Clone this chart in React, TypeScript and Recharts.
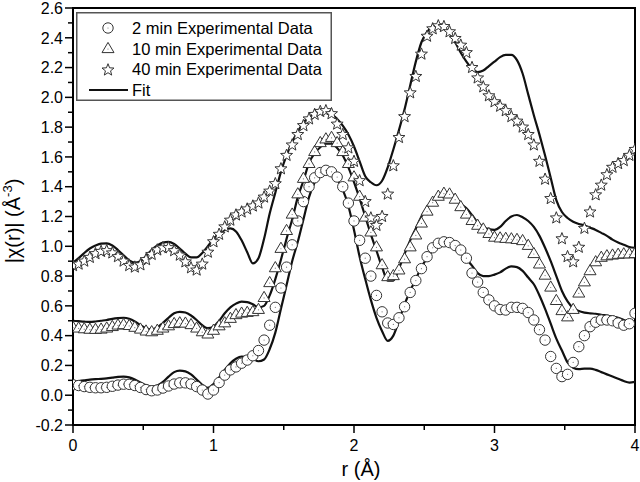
import React from 'react';
import { ComposedChart, Scatter, Line, XAxis, YAxis, ReferenceArea, Legend } from 'recharts';

const FONT = 'Liberation Sans, Arial, Helvetica, sans-serif';

// r grid (Å)
const rValues = [
  0, 0.04, 0.08, 0.12, 0.16, 0.2, 0.24, 0.28, 0.32, 0.36, 0.4, 0.44, 0.48, 0.52, 0.56, 0.6, 0.64, 0.68, 0.72, 0.76, 0.8, 0.84, 0.88, 0.92, 0.96,
  1, 1.04, 1.08, 1.12, 1.16, 1.2, 1.24, 1.28, 1.32, 1.36, 1.4, 1.44, 1.48, 1.52, 1.56, 1.6, 1.64, 1.68, 1.72, 1.76, 1.8, 1.84, 1.88, 1.92, 1.96,
  2, 2.04, 2.08, 2.12, 2.16, 2.2, 2.24, 2.28, 2.32, 2.36, 2.4, 2.44, 2.48, 2.52, 2.56, 2.6, 2.64, 2.68, 2.72, 2.76, 2.8, 2.84, 2.88, 2.92, 2.96,
  3, 3.04, 3.08, 3.12, 3.16, 3.2, 3.24, 3.28, 3.32, 3.36, 3.4, 3.44, 3.48, 3.52, 3.56, 3.6, 3.64, 3.68, 3.72, 3.76, 3.8, 3.84, 3.88, 3.92, 3.96,
  4,
];

// 2 min experimental data
const exp2 = [
  0.07, 0.065, 0.058, 0.053, 0.05, 0.05, 0.053, 0.06, 0.068, 0.074, 0.073, 0.065, 0.052, 0.038, 0.03, 0.035, 0.048, 0.062, 0.075, 0.083, 0.083, 0.075, 0.058, 0.035, 0.008,
  0.035, 0.085, 0.135, 0.17, 0.19, 0.215, 0.236, 0.265, 0.3, 0.37, 0.47, 0.59, 0.72, 0.86, 1.01, 1.17, 1.3, 1.4, 1.46, 1.495, 1.51, 1.5, 1.465, 1.4, 1.29,
  1.17, 1.04, 0.92, 0.8, 0.67, 0.56, 0.485, 0.475, 0.52, 0.594, 0.69, 0.77, 0.85, 0.93, 0.99, 1.02, 1.03, 1.025, 1.005, 0.975, 0.92, 0.82, 0.76, 0.69, 0.64,
  0.6, 0.575, 0.572, 0.59, 0.59, 0.583, 0.555, 0.505, 0.44, 0.37, 0.26, 0.18, 0.125, 0.14, 0.22, 0.326, 0.4, 0.46, 0.49, 0.505, 0.505, 0.5, 0.485, 0.47, 0.48,
  0.55,
];

// 10 min experimental data
const exp10 = [
  0.46, 0.455, 0.45, 0.447, 0.446, 0.448, 0.455, 0.465, 0.475, 0.478, 0.472, 0.46, 0.448, 0.435, 0.43, 0.44, 0.455, 0.47, 0.485, 0.49, 0.488, 0.478, 0.455, 0.43, 0.415,
  0.44, 0.47, 0.49, 0.52, 0.545, 0.555, 0.56, 0.565, 0.58, 0.66, 0.76, 0.86, 0.99, 1.11, 1.22, 1.356, 1.46, 1.56, 1.64, 1.7, 1.725, 1.735, 1.7, 1.64, 1.56,
  1.47, 1.34, 1.2, 1.1, 1.0, 0.88, 0.8, 0.807, 0.845, 0.92, 1.0, 1.08, 1.16, 1.24, 1.3, 1.34, 1.36, 1.355, 1.32, 1.27, 1.22, 1.177, 1.145, 1.12, 1.09,
  1.065, 1.06, 1.057, 1.054, 1.05, 1.042, 1.01, 0.955, 0.885, 0.81, 0.73, 0.64, 0.572, 0.53, 0.58, 0.69, 0.765, 0.84, 0.9, 0.93, 0.94, 0.945, 0.95, 0.953, 0.953,
  0.955,
];

// 40 min experimental data
const exp40 = [
  0.87, 0.88, 0.9, 0.925, 0.95, 0.965, 0.97, 0.955, 0.93, 0.9, 0.87, 0.86, 0.875, 0.91, 0.945, 0.975, 0.99, 0.99, 0.97, 0.94, 0.895, 0.855, 0.84, 0.88, 0.96,
  1.03, 1.08, 1.13, 1.175, 1.21, 1.23, 1.25, 1.27, 1.29, 1.33, 1.37, 1.42, 1.52, 1.61, 1.68, 1.75, 1.81, 1.855, 1.885, 1.905, 1.91, 1.89, 1.82, 1.75, 1.66,
  1.57, 1.44, 1.3, 1.19, 1.14, 1.2, 1.35, 1.54, 1.73, 1.87, 2.03, 2.14, 2.29, 2.41, 2.46, 2.48, 2.475, 2.44, 2.395, 2.35, 2.3, 2.2, 2.13, 2.07, 2.01,
  1.97, 1.94, 1.91, 1.87, 1.84, 1.8, 1.75, 1.68, 1.57, 1.45, 1.32, 1.19, 1.05, 0.93, 0.895, 0.993, 1.12, 1.23, 1.345, 1.41, 1.48, 1.53, 1.555, 1.575, 1.61,
  1.65,
];

// Fits
const fit2 = [
  0.09, 0.095, 0.1, 0.105, 0.108, 0.11, 0.113, 0.118, 0.123, 0.125, 0.12, 0.105, 0.085, 0.067, 0.058, 0.065, 0.09, 0.125, 0.155, 0.165, 0.16, 0.14, 0.105, 0.07, 0.05,
  0.075, 0.12, 0.17, 0.215, 0.245, 0.26, 0.258, 0.245, 0.228, 0.24, 0.31, 0.42, 0.58, 0.74, 0.9, 1.03, 1.18, 1.33, 1.43, 1.485, 1.51, 1.5, 1.45, 1.38, 1.27,
  1.11, 0.93, 0.78, 0.64, 0.52, 0.43, 0.365, 0.4, 0.5, 0.61, 0.7, 0.78, 0.86, 0.92, 0.97, 0.995, 1.01, 1.005, 0.985, 0.96, 0.915, 0.87, 0.82, 0.8, 0.8,
  0.81, 0.825, 0.85, 0.865, 0.86, 0.835, 0.79, 0.745, 0.67, 0.58, 0.48, 0.38, 0.3, 0.22, 0.185, 0.175, 0.178, 0.178, 0.17, 0.155, 0.14, 0.125, 0.11, 0.095, 0.085,
  0.09,
];

const fit10 = [
  0.5, 0.497, 0.494, 0.492, 0.495, 0.5, 0.505, 0.513, 0.518, 0.52, 0.513, 0.495, 0.47, 0.45, 0.442, 0.455, 0.485, 0.52, 0.55, 0.56, 0.555, 0.535, 0.505, 0.47, 0.45,
  0.46, 0.5, 0.55, 0.59, 0.615, 0.628, 0.625, 0.61, 0.59, 0.6, 0.67, 0.78, 0.91, 1.05, 1.18, 1.33, 1.44, 1.56, 1.625, 1.665, 1.69, 1.69, 1.66, 1.61, 1.53,
  1.43, 1.32, 1.2, 1.08, 0.97, 0.86, 0.77, 0.77, 0.85, 0.95, 1.04, 1.12, 1.2, 1.26, 1.31, 1.335, 1.35, 1.345, 1.32, 1.285, 1.255, 1.21, 1.16, 1.13, 1.115,
  1.11, 1.13, 1.17, 1.2, 1.21, 1.195, 1.17, 1.13, 1.07, 0.99, 0.9, 0.8, 0.7, 0.63, 0.585, 0.565, 0.555, 0.55, 0.547, 0.54, 0.535, 0.528, 0.52, 0.505, 0.492,
  0.483,
];

const fit40 = [
  0.89, 0.92, 0.955, 0.985, 1.005, 1.018, 1.02, 1.005, 0.975, 0.94, 0.905, 0.89, 0.9, 0.935, 0.975, 1.005, 1.025, 1.03, 1.015, 0.985, 0.95, 0.925, 0.925, 0.955, 1.0,
  1.05, 1.085, 1.11, 1.12, 1.1, 1.04, 0.96, 0.885, 0.92, 1.05, 1.22, 1.36, 1.5, 1.61, 1.7, 1.77, 1.83, 1.865, 1.89, 1.903, 1.9, 1.885, 1.855, 1.81, 1.75,
  1.67, 1.57, 1.47, 1.43, 1.41, 1.44, 1.53, 1.65, 1.78, 1.92, 2.08, 2.24, 2.37, 2.44, 2.475, 2.486, 2.47, 2.43, 2.37, 2.3, 2.24, 2.19, 2.17, 2.18, 2.21,
  2.24, 2.27, 2.285, 2.285, 2.25, 2.16, 2.02, 1.88, 1.75, 1.61, 1.46, 1.31, 1.23, 1.19, 1.165, 1.15, 1.14, 1.125, 1.11, 1.09, 1.07, 1.045, 1.025, 1.01, 0.995,
  0.99,
];

const xTicks = [0, 0.5, 1, 1.5, 2, 2.5, 3, 3.5, 4];
const yTicks = [
  -0.2, -0.1, 0, 0.1, 0.2, 0.3, 0.4, 0.5, 0.6, 0.7, 0.8, 0.9, 1.0, 1.1, 1.2, 1.3, 1.4, 1.5, 1.6, 1.7, 1.8, 1.9, 2.0,
  2.1, 2.2, 2.3, 2.4, 2.5, 2.6,
];

const legendLabels = ['2 min Experimental Data', '10 min Experimental Data', '40 min Experimental Data', 'Fit'];

const rows = rValues.map((r, i) => ({
  r,
  e2: exp2[i],
  e10: exp10[i],
  e40: exp40[i],
  f2: fit2[i],
  f10: fit10[i],
  f40: fit40[i],
}));

// layout constants
const W = 640;
const H = 482;
const PLOT_LEFT = 73;
const PLOT_BOTTOM = 425;
const MARK_STROKE = '#333';

const CircleMark = ({ cx, cy }: any) => (
  <g>
    <circle cx={cx} cy={cy} r={5.2} fill="#fff" stroke={MARK_STROKE} strokeWidth={1} />
    <circle cx={cx} cy={cy} r={0.6} fill="#777" />
  </g>
);

const TriangleMark = ({ cx, cy }: any) => (
  <g>
    <polygon
      points={`${cx},${cy - 5.6} ${cx + 6},${cy + 4.6} ${cx - 6},${cy + 4.6}`}
      fill="#fff"
      stroke={MARK_STROKE}
      strokeWidth={1}
      strokeLinejoin="miter"
    />
    <circle cx={cx} cy={cy + 1} r={0.6} fill="#777" />
  </g>
);

const starPoints = (cx: number, cy: number, R: number, r: number) => {
  const pts: string[] = [];
  for (let i = 0; i < 10; i++) {
    const a = (-90 + i * 36) * (Math.PI / 180);
    const rad = i % 2 === 0 ? R : r;
    pts.push(`${(cx + rad * Math.cos(a)).toFixed(2)},${(cy + rad * Math.sin(a)).toFixed(2)}`);
  }
  return pts.join(' ');
};

const StarMark = ({ cx, cy }: any) => (
  <polygon points={starPoints(cx, cy, 6.3, 2.7)} fill="#fff" stroke={MARK_STROKE} strokeWidth={1} />
);

const YTick = (props: any) => {
  const { y, payload } = props;
  const v = payload.value as number;
  const major = Math.round(v * 10) % 2 === 0;
  return (
    <g>
      <line x1={PLOT_LEFT} x2={PLOT_LEFT - (major ? 8 : 5)} y1={y} y2={y} stroke="#000" strokeWidth={1.5} />
      {major && (
        <text x={PLOT_LEFT - 10} y={y} dy="0.36em" textAnchor="end" fontSize={16} fontFamily={FONT} fill="#000">
          {v.toFixed(1)}
        </text>
      )}
    </g>
  );
};

const XTick = (props: any) => {
  const { x, payload } = props;
  const v = payload.value as number;
  const major = Math.abs(v - Math.round(v)) < 1e-6;
  return (
    <g>
      <line x1={x} x2={x} y1={PLOT_BOTTOM} y2={PLOT_BOTTOM + (major ? 8 : 5)} stroke="#000" strokeWidth={1.5} />
      {major && (
        <text x={x} y={PLOT_BOTTOM + 26} textAnchor="middle" fontSize={16} fontFamily={FONT} fill="#000">
          {String(v)}
        </text>
      )}
    </g>
  );
};

const XLabel = () => (
  <text x={361} y={476} textAnchor="middle" fontSize={20} fontFamily={FONT} fill="#000">
    r (Å)
  </text>
);

const YLabel = () => (
  <text
    transform="translate(20,221) rotate(-90)"
    textAnchor="middle"
    fontSize={20}
    fontFamily={FONT}
    fill="#000"
  >
    |χ(r)| (Å
    <tspan fontSize={13} dy={-8}>-3</tspan>
    <tspan dy={8}>)</tspan>
  </text>
);

const LegendBox = () => (
  <svg width={256} height={90} style={{ display: 'block', overflow: 'visible' }}>
    <rect x={0.75} y={0.75} width={254.5} height={87.5} fill="#fff" stroke="#555" strokeWidth={1.5} />
    <CircleMark cx={32} cy={16} />
    <TriangleMark cx={32} cy={36} />
    <StarMark cx={32} cy={58} />
    <line x1={13} x2={52} y1={78} y2={78} stroke="#111" strokeWidth={2.2} />
    {legendLabels.map((t, i) => (
      <text key={t} x={56} y={22 + i * 20.7} fontSize={16.5} fontFamily={FONT} fill="#000">
        {t}
      </text>
    ))}
  </svg>
);

export default function App() {
  return (
    <div style={{ position: 'absolute', left: 0, top: 0, width: W, height: H, background: '#fff' }}>
      <ComposedChart width={W} height={H} data={rows} margin={{ top: 8, right: 5, bottom: 0, left: 0 }}>
        <XAxis
          dataKey="r"
          type="number"
          domain={[0, 4]}
          ticks={xTicks}
          interval={0}
          height={57}
          tickLine={false}
          axisLine={{ stroke: '#000', strokeWidth: 2 }}
          tick={<XTick />}
          label={<XLabel />}
          allowDataOverflow
        />
        <YAxis
          type="number"
          domain={[-0.2, 2.6]}
          ticks={yTicks}
          interval={0}
          width={73}
          tickLine={false}
          axisLine={{ stroke: '#000', strokeWidth: 2 }}
          tick={<YTick />}
          label={<YLabel />}
          allowDataOverflow
        />
        <ReferenceArea x1={0} x2={4} y1={-0.2} y2={2.6} fill="none" stroke="#000" strokeWidth={2} fillOpacity={0} />
        <Scatter dataKey="e2" shape={<CircleMark />} isAnimationActive={false} />
        <Scatter dataKey="e10" shape={<TriangleMark />} isAnimationActive={false} />
        <Scatter dataKey="e40" shape={<StarMark />} isAnimationActive={false} />
        <Line type="monotone" dataKey="f2" stroke="#111" strokeWidth={2.2} dot={false} activeDot={false} isAnimationActive={false} />
        <Line type="monotone" dataKey="f10" stroke="#111" strokeWidth={2.2} dot={false} activeDot={false} isAnimationActive={false} />
        <Line type="monotone" dataKey="f40" stroke="#111" strokeWidth={2.2} dot={false} activeDot={false} isAnimationActive={false} />
        <Legend
          layout="vertical"
          align="center"
          verticalAlign="middle"
          content={() => <LegendBox />}
          wrapperStyle={{ position: 'absolute', left: 76, top: 12, width: 256, height: 90 }}
        />
      </ComposedChart>
    </div>
  );
}
